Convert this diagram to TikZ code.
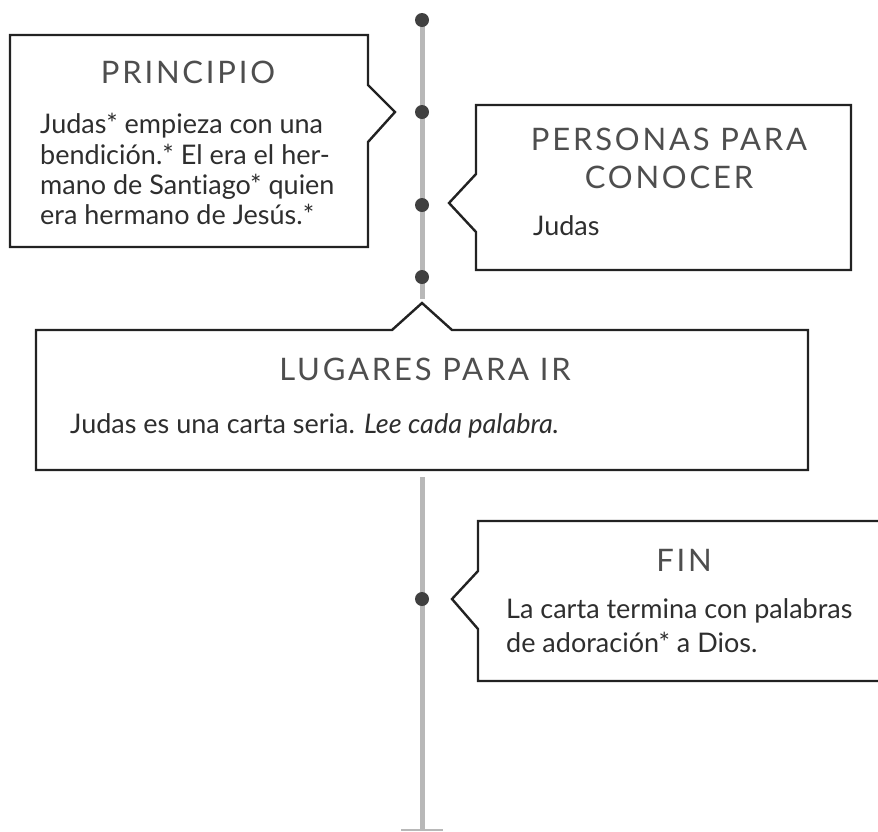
\documentclass[tikz,border=0pt]{standalone}
\usepackage{fontspec}
\setmainfont{Lato}[Ligatures=NoCommon]
\newfontfamily\titlefont{Lato}[LetterSpace=9]
\definecolor{boxc}{HTML}{222222}
\definecolor{linec}{HTML}{B8B8B8}
\definecolor{dotc}{HTML}{404040}
\definecolor{titlec}{HTML}{4E4E4E}
\definecolor{bodyc}{HTML}{2E2E2E}
\begin{document}
\begin{tikzpicture}[x=1pt,y=-1pt,
  boxline/.style={draw=boxc, line width=2.4pt, fill=white, line join=miter},
  timeline/.style={draw=linec, line width=5pt},
  tbar/.style={draw=linec, line width=2.2pt},
  dot/.style={circle, fill=dotc, minimum size=14pt, inner sep=0pt},
  ttl/.style={text=titlec, font=\titlefont\fontsize{31}{35}\selectfont, inner sep=0pt, anchor=base},
  body/.style={text=bodyc, font=\fontsize{27}{31}\selectfont, inner sep=0pt, anchor=base west}]
\useasboundingbox (0,0) rectangle (878,831);
% timeline
\coordinate (top) at (422,20);
\coordinate (ltop) at (422,299);
\coordinate (lbot) at (422,477);
\coordinate (lend) at (422,830);
\coordinate (barl) at (401,830);
\coordinate (barr) at (443,830);
\draw[timeline] (top) -- (ltop);
\draw[timeline] (lbot) -- (lend);
\draw[tbar] (barl) -- (barr);
% boxes
\draw[boxline] (10,35) -- (368,35) -- (368,85) -- (395,112) -- (368,142) -- (368,247) -- (10,247) -- cycle;
\draw[boxline] (476,105) -- (851,105) -- (851,270) -- (476,270) -- (476,232) -- (449,203) -- (476,174) -- cycle;
\draw[boxline] (36,330) -- (392,330) -- (422,303) -- (452,330) -- (808,330) -- (808,470) -- (36,470) -- cycle;
\draw[boxline] (478,521) -- (882,521) -- (882,681) -- (478,681) -- (478,629) -- (452,599) -- (478,571) -- cycle;
% dots
\node[dot] (d1) at (422,20) {};
\node[dot] (d2) at (422,112) {};
\node[dot] (d3) at (422,205) {};
\node[dot] (d4) at (422,277) {};
\node[dot] (d5) at (422,599) {};
% PRINCIPIO
\node[ttl] (t1) at (188,83) {PRINCIPIO};
\node[body] (p1) at (40,133) {Judas* empieza con una};
\node[body] (p2) at (40,164) {bendición.* El era el her-};
\node[body] (p3) at (40,194) {mano de Santiago* quien};
\node[body] (p4) at (40,224) {era hermano de Jesús.*};
% PERSONAS
\node[ttl] (t2a) at (669,150) {PERSONAS PARA};
\node[ttl] (t2b) at (669,188) {CONOCER};
\node[body] (q1) at (533,235) {Judas};
% LUGARES
\node[ttl] (t3) at (425,380) {LUGARES PARA IR};
\node[body] (r1) at (70,433) {Judas es una carta seria. \textit{Lee cada palabra.}};
% FIN
\node[ttl] (t4) at (684,571) {FIN};
\node[body] (s1) at (506,618) {La carta termina con palabras};
\node[body] (s2) at (506,652) {de adoración* a Dios.};
\end{tikzpicture}
\end{document}
